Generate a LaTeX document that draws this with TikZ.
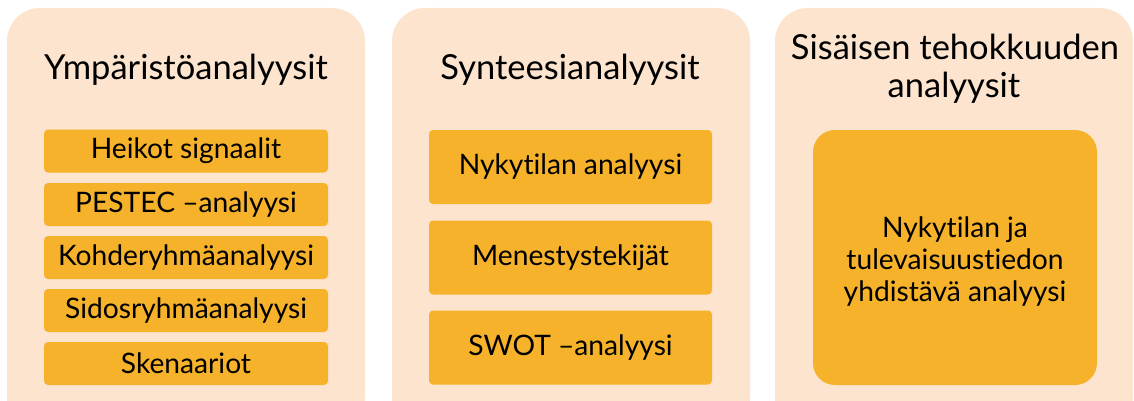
\documentclass[tikz,border=0pt]{standalone}
\usepackage{fontspec}
\setmainfont{Lato}[Ligatures=NoCommon]
\definecolor{peach}{HTML}{FCE4CF}
\definecolor{gold}{HTML}{F5B22A}
\begin{document}
\begin{tikzpicture}[x=1pt,y=-1pt,
  panel/.style={fill=peach,draw=none,rounded corners=33pt},
  title/.style={font=\fontsize{34.5}{38}\selectfont,anchor=base,inner sep=0pt},
  item/.style={fill=gold,draw=none,rounded corners=4pt,inner sep=0pt,
    minimum width=284pt,minimum height=43pt,font=\fontsize{28.2}{30}\selectfont},
  tallitem/.style={item,minimum width=283pt,minimum height=74pt},
  bigitem/.style={fill=gold,draw=none,rounded corners=22pt,inner sep=0pt,
    minimum width=284pt,minimum height=255pt},
  bigtext/.style={align=center,inner sep=0pt,font=\fontsize{28.2}{32}\selectfont}]
\useasboundingbox (0,0) rectangle (1134,401);
\clip (0,0) rectangle (1134,401);
% background panels
\fill[panel] (7,8) rectangle (365,430);
\fill[panel] (392,8) rectangle (750,430);
\fill[panel] (775,8) rectangle (1133,430);
% environment analyses
\node[title] (t1) at (186,80) {Ympäristöanalyysit};
\node[item] (a1) at (186,151) {Heikot signaalit};
\node[item] (a2) at (186,204.5) {PESTEC –analyysi};
\node[item] (a3) at (186,257.5) {Kohderyhmäanalyysi};
\node[item] (a4) at (186,310.5) {Sidosryhmäanalyysi};
\node[item] (a5) at (186,363.5) {Skenaariot};
% synthesis analyses
\node[title] (t2) at (570,80) {Synteesianalyysit};
\node[tallitem] (b1) at (570.5,167) {Nykytilan analyysi};
\node[tallitem] (b2) at (570.5,257.5) {Menestystekijät};
\node[tallitem] (b3) at (570.5,347.5) {SWOT –analyysi};
% internal efficiency analyses
\node[title] (t3a) at (955,60) {Sisäisen tehokkuuden};
\node[title] (t3b) at (954,98) {analyysit};
\node[bigitem] (c1) at (955,257.5) {};
\node[bigtext] (c1t) at (955,262) {Nykytilan ja\\tulevaisuustiedon\\yhdistävä analyysi};
\end{tikzpicture}
\end{document}
